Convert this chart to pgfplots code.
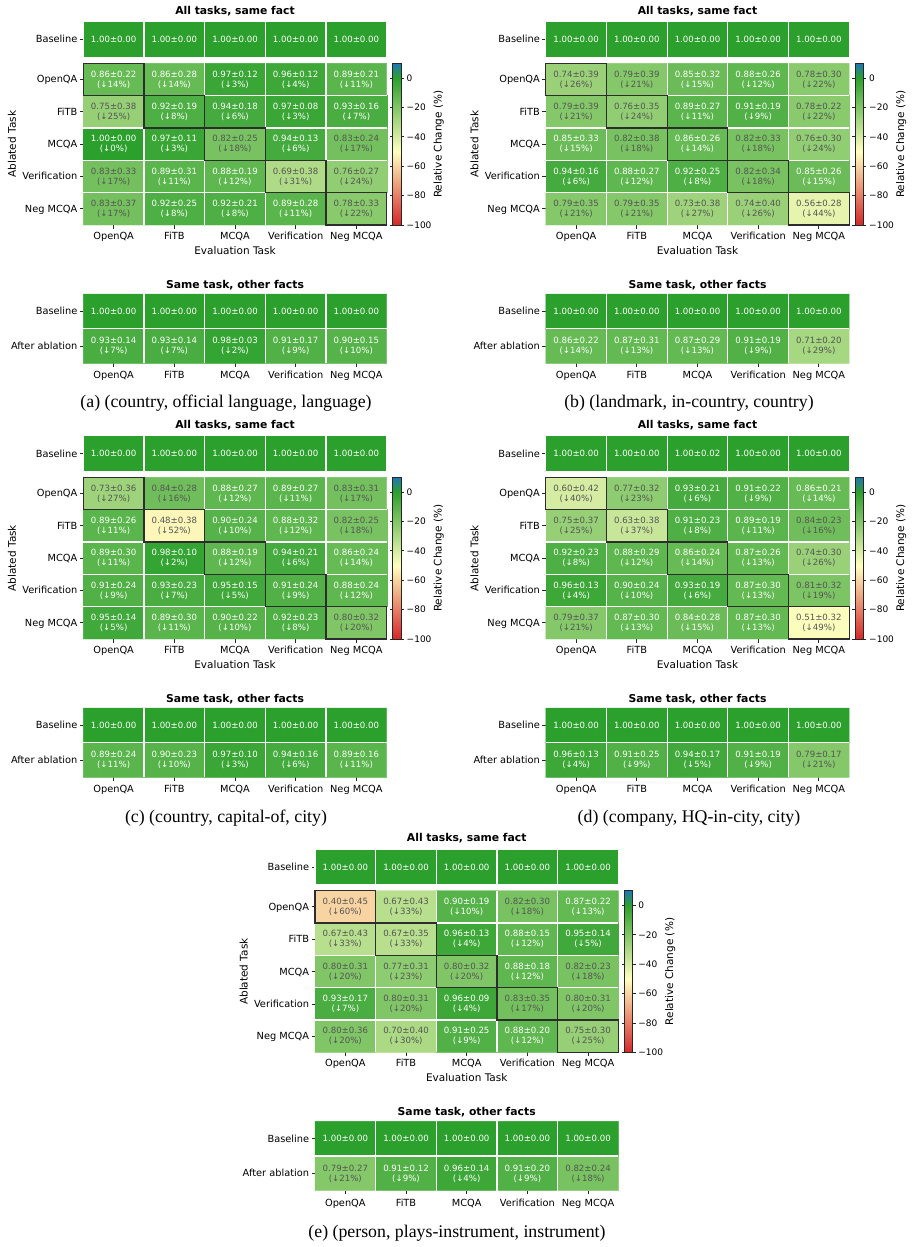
\documentclass[border=0pt]{standalone}
\usepackage{pgfplots}
\pgfplotsset{compat=1.18}
\usepackage{pgfplotstable}
\usepackage{fontspec}
\setmainfont{DejaVu Sans}
\newfontfamily\capfamily{Liberation Serif}

\definecolor{hmzero}{RGB}{44,160,44}
\definecolor{celldark}{RGB}{85,85,85}
\definecolor{tickgray}{RGB}{38,38,38}
\definecolor{diagcol}{RGB}{45,45,45}

\newcommand\tickfont{\fontsize{9.8}{11}\selectfont}
\newcommand\cellfont{\fontsize{8.6}{10}\selectfont}
\newcommand\titlefont{\fontsize{10.8}{13}\selectfont\bfseries}
\newcommand\labfont{\fontsize{10.5}{12}\selectfont}
\newcommand\cbfont{\fontsize{9}{11}\selectfont}
\newcommand\capfont{\capfamily\fontsize{17.8}{20}\selectfont}

% number printing for the cell annotations
\newcommand\two[1]{\pgfmathprintnumber[fixed,fixed zerofill,precision=2,assume math mode=true]{#1}}
\newcommand\pct[1]{\pgfmathprintnumber[fixed,precision=0,assume math mode=true]{#1}}

\tikzset{
  sepline/.style={white, line width=1.2pt},
  diagline/.style={draw=diagcol, line width=1.3pt},
}

\pgfplotsset{
  colormap={hm}{rgb255(0cm)=(214,39,40) rgb255(5cm)=(255,255,191) rgb255(10cm)=(44,160,44) rgb255(11cm)=(31,119,180)},
  every axis title shift=0pt,
  hmcommon/.style={
    scale only axis, width=303.4pt, anchor=south west,
    xmin=-0.5, xmax=4.5, clip=false,
    axis lines=left, axis line style={draw=none},
    tick align=outside, major tick length=3.5pt,
    tick style={draw=tickgray, line width=0.8pt},
    ticklabel style={font=\tickfont},
    yticklabel style={anchor=base east, inner sep=0pt, xshift=-2.2pt, yshift=-3.5pt},
    title style={font=\titlefont, anchor=base},
    label style={font=\labfont},
  },
  hmcolor/.style={colormap name=hm, point meta min=-100, point meta max=10},
  % annotation styles: mean±sd (+ relative drop) written in the cells
  labbase/.style={draw=none,
    visualization depends on={\thisrow{m}\as\vM},
    visualization depends on={\thisrow{s}\as\vS},
    every node near coord/.append style={font=\cellfont, align=center, inner sep=0pt, anchor=center}},
  labone/.style={labbase,
    nodes near coords={\two{\vM}±\two{\vS}},
    every node near coord/.append style={text=white}},
  labtwo/.style={labbase,
    visualization depends on={\thisrow{d}\as\vD},
    nodes near coords={\two{\vM}±\two{\vS}\\(↓\pct{\vD}\%)}},
  labtwowhite/.style={labtwo,
    restrict expr to domain={\thisrow{d}+100*(\thisrow{r}<0.5)}{-1:15.5},
    every node near coord/.append style={text=white}},
  labtwogray/.style={labtwo,
    restrict expr to domain={\thisrow{d}+100*(\thisrow{r}<0.5)}{15.5:99},
    every node near coord/.append style={text=celldark}},
  labonerow/.style={labone,
    restrict expr to domain={\thisrow{r}}{-0.5:0.5}},
}

% white separators between the cells
\newcommand\blockgrid{%
  \draw[sepline] (axis cs:0.5,-5.5) -- (axis cs:0.5,-0.5);
  \draw[sepline] (axis cs:1.5,-5.5) -- (axis cs:1.5,-0.5);
  \draw[sepline] (axis cs:2.5,-5.5) -- (axis cs:2.5,-0.5);
  \draw[sepline] (axis cs:3.5,-5.5) -- (axis cs:3.5,-0.5);
  \draw[sepline] (axis cs:-0.5,-1.5) -- (axis cs:4.5,-1.5);
  \draw[sepline] (axis cs:-0.5,-2.5) -- (axis cs:4.5,-2.5);
  \draw[sepline] (axis cs:-0.5,-3.5) -- (axis cs:4.5,-3.5);
  \draw[sepline] (axis cs:-0.5,-4.5) -- (axis cs:4.5,-4.5);
}
\newcommand\samegrid{%
  \draw[sepline] (axis cs:0.5,-1.5) -- (axis cs:0.5,0.5);
  \draw[sepline] (axis cs:1.5,-1.5) -- (axis cs:1.5,0.5);
  \draw[sepline] (axis cs:2.5,-1.5) -- (axis cs:2.5,0.5);
  \draw[sepline] (axis cs:3.5,-1.5) -- (axis cs:3.5,0.5);
  \draw[sepline] (axis cs:-0.5,-0.5) -- (axis cs:4.5,-0.5);
}
% outline of the diagonal (ablated task = evaluated task)
\newcommand\diagboxes{%
  \draw[diagline] (axis cs:-0.5,-1.5) rectangle (axis cs:0.5,-0.5);
  \draw[diagline] (axis cs:0.5,-2.5) rectangle (axis cs:1.5,-1.5);
  \draw[diagline] (axis cs:1.5,-3.5) rectangle (axis cs:2.5,-2.5);
  \draw[diagline] (axis cs:2.5,-4.5) rectangle (axis cs:3.5,-3.5);
  \draw[diagline] (axis cs:3.5,-5.5) rectangle (axis cs:4.5,-4.5);
}

% #1,#2 panel offset; #3 baseline row; #4 ablation block; #5 same-task table;
% #6 caption; #7,#8 caption position
\newcommand\heatpanel[8]{%
  \begin{axis}[hmcommon, at={(#1pt+83.3pt,-#2pt-57.3pt)}, height=35.6pt,
      ymin=0, ymax=1, xtick=\empty, ytick={0.5}, yticklabels={Baseline},
      title={All tasks, same fact}, title style={at={(axis description cs:0.5,1.2)}}]
    \addplot[ybar, bar width=60.68pt, bar shift=0pt, fill=hmzero, draw=white, line width=1.2pt]
      table[x=c, y=m] {#3};
    \addplot[labone] table[x=c, y expr=0.5] {#3};
  \end{axis}
  \begin{axis}[hmcommon, hmcolor, at={(#1pt+83.3pt,-#2pt-225pt)}, height=161.7pt,
      ymin=-5.5, ymax=-0.5,
      xtick={0,1,2,3,4}, xticklabels={OpenQA,FiTB,MCQA,Verification,Neg MCQA},
      xticklabel style={anchor=base, yshift=-10.9pt},
      ytick={-5,-4,-3,-2,-1}, yticklabels={Neg MCQA,Verification,MCQA,FiTB,OpenQA},
      xlabel={Evaluation Task}, xlabel style={at={(axis description cs:0.5,-0.18)}, anchor=base},
      ylabel={Ablated Task}, ylabel style={at={(axis description cs:-0.235,0.5)}, anchor=center},
      colorbar,
      colorbar style={
        at={(parent axis.north east)}, anchor=north west, xshift=-2.6pt,
        scale only axis, width=8.4pt,
        ytick={-100,-80,-60,-40,-20,0},
        yticklabels={−100,−80,−60,−40,−20,0},
        yticklabel style={font=\cbfont, anchor=base west, inner sep=0pt, xshift=2.7pt, yshift=-3.2pt},
        tick align=outside, major tick length=2.8pt,
        tick style={draw=tickgray, line width=0.8pt},
        axis line style={draw=tickgray, line width=0.8pt},
        ylabel={Relative Change (\%)},
        ylabel style={font=\labfont, at={(axis description cs:5.476,0.5)}, anchor=center},
      }]
    \addplot[matrix plot*, mesh/cols=5, point meta=explicit]
      table[x=c, y expr=-\thisrow{r}, meta expr=-\thisrow{d}] {#4};
    \blockgrid
    \diagboxes
    \addplot[labtwowhite] table[x=c, y expr=-\thisrow{r}] {#4};
    \addplot[labtwogray] table[x=c, y expr=-\thisrow{r}] {#4};
  \end{axis}
  \begin{axis}[hmcommon, hmcolor, at={(#1pt+83.3pt,-#2pt-363.3pt)}, height=69.3pt,
      ymin=-1.5, ymax=0.5,
      xtick={0,1,2,3,4}, xticklabels={OpenQA,FiTB,MCQA,Verification,Neg MCQA},
      xticklabel style={anchor=base, yshift=-12pt},
      ytick={-1,0}, yticklabels={After ablation,Baseline},
      title={Same task, other facts}, title style={at={(axis description cs:0.5,1.084)}}]
    \addplot[matrix plot*, mesh/cols=5, point meta=explicit]
      table[x=c, y expr=-\thisrow{r}, meta expr=-\thisrow{d}] {#5};
    \samegrid
    \addplot[labonerow] table[x=c, y expr=-\thisrow{r}] {#5};
    \addplot[labtwowhite] table[x=c, y expr=-\thisrow{r}] {#5};
    \addplot[labtwogray] table[x=c, y expr=-\thisrow{r}] {#5};
  \end{axis}
  \node[font=\capfont, anchor=base] at (#7pt,-#8pt) {#6};
}

% ---------------- (a) country, official language, language
\pgfplotstableread{
c m s
0 1.00 0.00
1 1.00 0.00
2 1.00 0.00
3 1.00 0.00
4 1.00 0.00
}\baseA
\pgfplotstableread{
c r m s d
0 1 0.86 0.22 14
1 1 0.86 0.28 14
2 1 0.97 0.12 3
3 1 0.96 0.12 4
4 1 0.89 0.21 11
0 2 0.75 0.38 25
1 2 0.92 0.19 8
2 2 0.94 0.18 6
3 2 0.97 0.08 3
4 2 0.93 0.16 7
0 3 1.00 0.00 0
1 3 0.97 0.11 3
2 3 0.82 0.25 18
3 3 0.94 0.13 6
4 3 0.83 0.24 17
0 4 0.83 0.33 17
1 4 0.89 0.31 11
2 4 0.88 0.19 12
3 4 0.69 0.38 31
4 4 0.76 0.27 24
0 5 0.83 0.37 17
1 5 0.92 0.25 8
2 5 0.92 0.21 8
3 5 0.89 0.28 11
4 5 0.78 0.33 22
}\blockA
\pgfplotstableread{
c r m s d
0 0 1.00 0.00 0
1 0 1.00 0.00 0
2 0 1.00 0.00 0
3 0 1.00 0.00 0
4 0 1.00 0.00 0
0 1 0.93 0.14 7
1 1 0.93 0.14 7
2 1 0.98 0.03 2
3 1 0.91 0.17 9
4 1 0.90 0.15 10
}\sameA

% ---------------- (b) landmark, in-country, country
\pgfplotstableread{
c m s
0 1.00 0.00
1 1.00 0.00
2 1.00 0.00
3 1.00 0.00
4 1.00 0.00
}\baseB
\pgfplotstableread{
c r m s d
0 1 0.74 0.39 26
1 1 0.79 0.39 21
2 1 0.85 0.32 15
3 1 0.88 0.26 12
4 1 0.78 0.30 22
0 2 0.79 0.39 21
1 2 0.76 0.35 24
2 2 0.89 0.27 11
3 2 0.91 0.19 9
4 2 0.78 0.22 22
0 3 0.85 0.33 15
1 3 0.82 0.38 18
2 3 0.86 0.26 14
3 3 0.82 0.33 18
4 3 0.76 0.30 24
0 4 0.94 0.16 6
1 4 0.88 0.27 12
2 4 0.92 0.25 8
3 4 0.82 0.34 18
4 4 0.85 0.26 15
0 5 0.79 0.35 21
1 5 0.79 0.35 21
2 5 0.73 0.38 27
3 5 0.74 0.40 26
4 5 0.56 0.28 44
}\blockB
\pgfplotstableread{
c r m s d
0 0 1.00 0.00 0
1 0 1.00 0.00 0
2 0 1.00 0.00 0
3 0 1.00 0.00 0
4 0 1.00 0.00 0
0 1 0.86 0.22 14
1 1 0.87 0.31 13
2 1 0.87 0.29 13
3 1 0.91 0.19 9
4 1 0.71 0.20 29
}\sameB

% ---------------- (c) country, capital-of, city
\pgfplotstableread{
c m s
0 1.00 0.00
1 1.00 0.00
2 1.00 0.00
3 1.00 0.00
4 1.00 0.00
}\baseC
\pgfplotstableread{
c r m s d
0 1 0.73 0.36 27
1 1 0.84 0.28 16
2 1 0.88 0.27 12
3 1 0.89 0.27 11
4 1 0.83 0.31 17
0 2 0.89 0.26 11
1 2 0.48 0.38 52
2 2 0.90 0.24 10
3 2 0.88 0.32 12
4 2 0.82 0.25 18
0 3 0.89 0.30 11
1 3 0.98 0.10 2
2 3 0.88 0.19 12
3 3 0.94 0.21 6
4 3 0.86 0.24 14
0 4 0.91 0.24 9
1 4 0.93 0.23 7
2 4 0.95 0.15 5
3 4 0.91 0.24 9
4 4 0.88 0.24 12
0 5 0.95 0.14 5
1 5 0.89 0.30 11
2 5 0.90 0.22 10
3 5 0.92 0.23 8
4 5 0.80 0.32 20
}\blockC
\pgfplotstableread{
c r m s d
0 0 1.00 0.00 0
1 0 1.00 0.00 0
2 0 1.00 0.00 0
3 0 1.00 0.00 0
4 0 1.00 0.00 0
0 1 0.89 0.24 11
1 1 0.90 0.23 10
2 1 0.97 0.10 3
3 1 0.94 0.16 6
4 1 0.89 0.16 11
}\sameC

% ---------------- (d) company, HQ-in-city, city
\pgfplotstableread{
c m s
0 1.00 0.00
1 1.00 0.00
2 1.00 0.02
3 1.00 0.00
4 1.00 0.00
}\baseD
\pgfplotstableread{
c r m s d
0 1 0.60 0.42 40
1 1 0.77 0.32 23
2 1 0.93 0.21 6
3 1 0.91 0.22 9
4 1 0.86 0.21 14
0 2 0.75 0.37 25
1 2 0.63 0.38 37
2 2 0.91 0.23 8
3 2 0.89 0.19 11
4 2 0.84 0.23 16
0 3 0.92 0.23 8
1 3 0.88 0.29 12
2 3 0.86 0.24 14
3 3 0.87 0.26 13
4 3 0.74 0.30 26
0 4 0.96 0.13 4
1 4 0.90 0.24 10
2 4 0.93 0.19 6
3 4 0.87 0.30 13
4 4 0.81 0.32 19
0 5 0.79 0.37 21
1 5 0.87 0.30 13
2 5 0.84 0.28 15
3 5 0.87 0.30 13
4 5 0.51 0.32 49
}\blockD
\pgfplotstableread{
c r m s d
0 0 1.00 0.00 0
1 0 1.00 0.00 0
2 0 1.00 0.00 0
3 0 1.00 0.00 0
4 0 1.00 0.00 0
0 1 0.96 0.13 4
1 1 0.91 0.25 9
2 1 0.94 0.17 5
3 1 0.91 0.19 9
4 1 0.79 0.17 21
}\sameD

% ---------------- (e) person, plays-instrument, instrument
\pgfplotstableread{
c m s
0 1.00 0.00
1 1.00 0.00
2 1.00 0.00
3 1.00 0.00
4 1.00 0.00
}\baseE
\pgfplotstableread{
c r m s d
0 1 0.40 0.45 60
1 1 0.67 0.43 33
2 1 0.90 0.19 10
3 1 0.82 0.30 18
4 1 0.87 0.22 13
0 2 0.67 0.43 33
1 2 0.67 0.35 33
2 2 0.96 0.13 4
3 2 0.88 0.15 12
4 2 0.95 0.14 5
0 3 0.80 0.31 20
1 3 0.77 0.31 23
2 3 0.80 0.32 20
3 3 0.88 0.18 12
4 3 0.82 0.23 18
0 4 0.93 0.17 7
1 4 0.80 0.31 20
2 4 0.96 0.09 4
3 4 0.83 0.35 17
4 4 0.80 0.31 20
0 5 0.80 0.36 20
1 5 0.70 0.40 30
2 5 0.91 0.25 9
3 5 0.88 0.20 12
4 5 0.75 0.30 25
}\blockE
\pgfplotstableread{
c r m s d
0 0 1.00 0.00 0
1 0 1.00 0.00 0
2 0 1.00 0.00 0
3 0 1.00 0.00 0
4 0 1.00 0.00 0
0 1 0.79 0.27 21
1 1 0.91 0.12 9
2 1 0.96 0.14 4
3 1 0.91 0.20 9
4 1 0.82 0.24 18
}\sameE

\begin{document}
\begin{tikzpicture}
\path[use as bounding box] (0pt,0pt) rectangle (915pt,-1247pt);
\heatpanel{0}{0}{\baseA}{\blockA}{\sameA}{(a) (country, official language, language)}{226}{407.8}
\heatpanel{462.5}{0}{\baseB}{\blockB}{\sameB}{(b) (landmark, in-country, country)}{689}{407.8}
\heatpanel{0}{414}{\baseC}{\blockC}{\sameC}{(c) (country, capital-of, city)}{226}{822.2}
\heatpanel{462.5}{414}{\baseD}{\blockD}{\sameD}{(d) (company, HQ-in-city, city)}{689}{822.2}
\heatpanel{231.7}{827.4}{\baseE}{\blockE}{\sameE}{(e) (person, plays-instrument, instrument)}{457}{1237.2}
\end{tikzpicture}
\end{document}
